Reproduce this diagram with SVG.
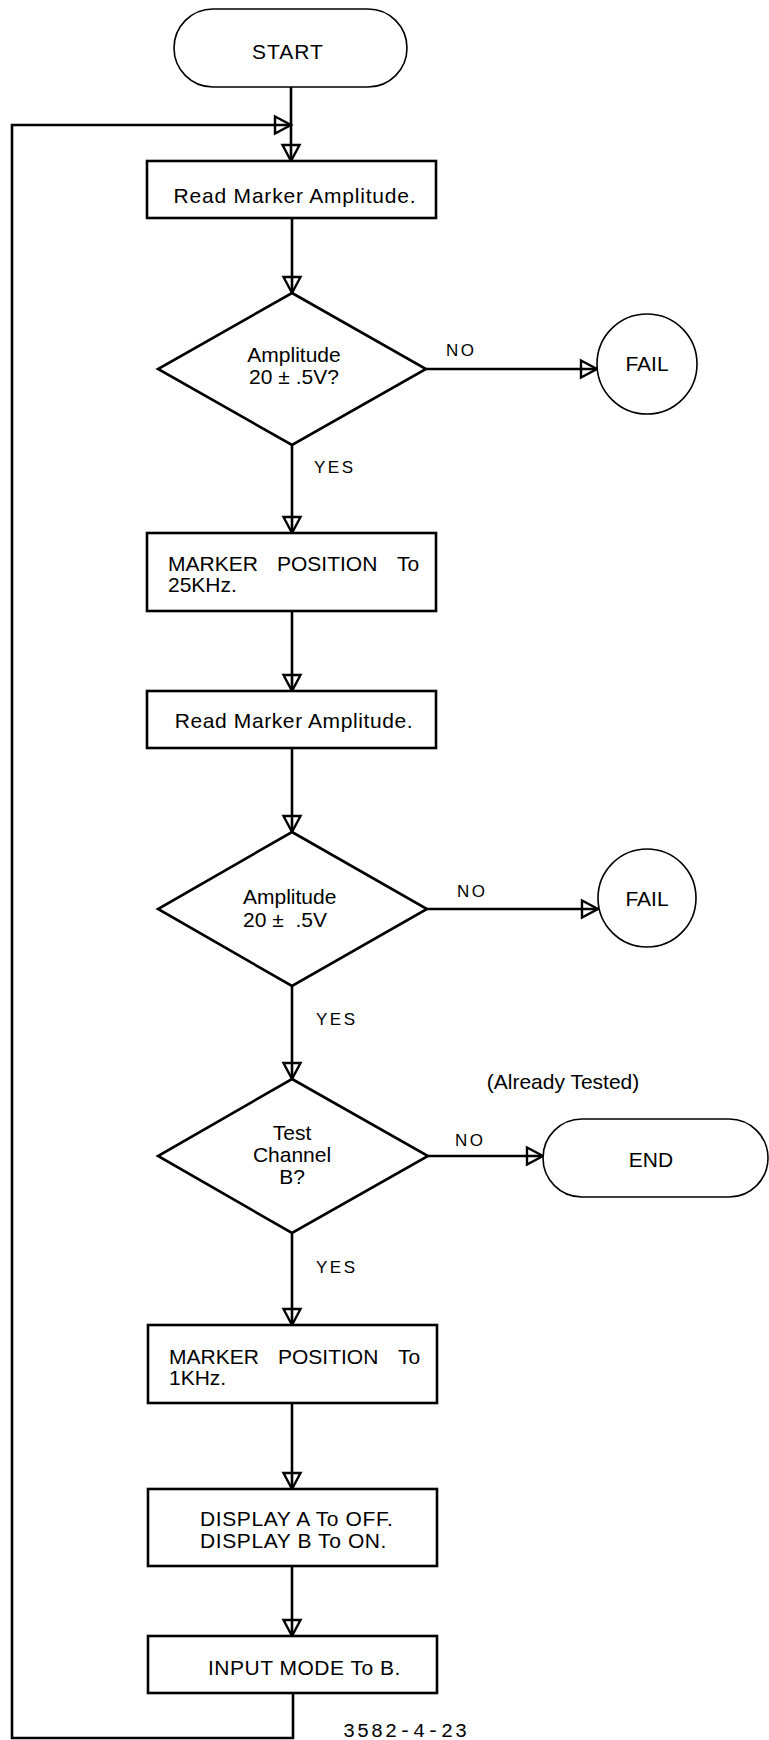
<svg xmlns="http://www.w3.org/2000/svg" width="769" height="1740" viewBox="0 0 769 1740">
<style>
  .box { fill: #fff; stroke: #000; stroke-width: 2.6; }
  .term { fill: #fff; stroke: #000; stroke-width: 1.6; }
  .line { fill: none; stroke: #000; stroke-width: 2.6; }
  .t { font-family: "Liberation Sans", Arial, sans-serif; font-size: 21px; fill: #000; }
  .c { text-anchor: middle; }
  .lbl { font-family: "Liberation Sans", Arial, sans-serif; font-size: 17px; letter-spacing: 2.5px; fill: #000; }
  .id { font-family: "Liberation Mono", "Courier New", monospace; font-size: 20px; letter-spacing: 2px; fill: #000; }
</style>
<defs>
  <marker id="arr" markerUnits="userSpaceOnUse" markerWidth="24" markerHeight="24" viewBox="0 0 24 24" refX="19" refY="12" orient="auto" overflow="visible">
    <path d="M3,3.5 L19,12 L3,20.5 Z" fill="none" stroke="#000" stroke-width="2.4" stroke-linejoin="miter"/>
  </marker>
</defs>
<rect width="769" height="1740" fill="#fff"/>

<g id="connectors">
  <path class="line" d="M291,87 L291,161" marker-end="url(#arr)"/>
  <path class="line" d="M293,1693 L293,1738 L12,1738 L12,125 L291,125" marker-end="url(#arr)"/>
  <path class="line" d="M292,218 L292,293" marker-end="url(#arr)"/>
  <path class="line" d="M426,369 L597,369" marker-end="url(#arr)"/>
  <path class="line" d="M292,445 L292,533" marker-end="url(#arr)"/>
  <path class="line" d="M292,611 L292,691" marker-end="url(#arr)"/>
  <path class="line" d="M292,748 L292,832" marker-end="url(#arr)"/>
  <path class="line" d="M427,909 L598,909" marker-end="url(#arr)"/>
  <path class="line" d="M292,986 L292,1079" marker-end="url(#arr)"/>
  <path class="line" d="M428,1156 L543,1156" marker-end="url(#arr)"/>
  <path class="line" d="M292,1233 L292,1325" marker-end="url(#arr)"/>
  <path class="line" d="M292,1403 L292,1489" marker-end="url(#arr)"/>
  <path class="line" d="M292,1566 L292,1636" marker-end="url(#arr)"/>
</g>

<g id="start">
  <rect class="term" x="174" y="9" width="233" height="78" rx="39" ry="39"/>
  <text class="t c" x="288" y="59" letter-spacing="1">START</text>
</g>

<g id="read1">
  <rect class="box" x="147" y="161" width="289" height="57"/>
  <text class="t c" x="295" y="203" letter-spacing="0.8">Read Marker Amplitude.</text>
</g>

<g id="dec1">
  <polygon class="box" points="292,293 426,369 292,445 158,369"/>
  <text class="t c" x="294" y="362">Amplitude</text>
  <text class="t c" x="294" y="384">20 ± .5V?</text>
</g>
<text class="lbl" x="446" y="356">NO</text>
<text class="lbl" x="314" y="473">YES</text>

<g id="fail1">
  <circle class="term" cx="647" cy="364" r="50"/>
  <text class="t c" x="647" y="371">FAIL</text>
</g>

<g id="marker25">
  <rect class="box" x="147" y="533" width="289" height="78"/>
  <text class="t" x="168" y="571">MARKER</text>
  <text class="t" x="277" y="571">POSITION</text>
  <text class="t" x="397" y="571">To</text>
  <text class="t" x="168" y="592">25KHz.</text>
</g>

<g id="read2">
  <rect class="box" x="147" y="691" width="289" height="57"/>
  <text class="t c" x="294" y="728" letter-spacing="0.6">Read Marker Amplitude.</text>
</g>

<g id="dec2">
  <polygon class="box" points="292,832 427,909 292,986 158,909"/>
  <text class="t" x="243" y="904">Amplitude</text>
  <text class="t" x="243" y="927" xml:space="preserve">20 ±  .5V</text>
</g>
<text class="lbl" x="457" y="897">NO</text>
<text class="lbl" x="316" y="1025">YES</text>

<g id="fail2">
  <circle class="term" cx="647" cy="898" r="49"/>
  <text class="t c" x="647" y="906">FAIL</text>
</g>

<text class="t c" x="563" y="1089" font-size="19">(Already Tested)</text>

<g id="dec3">
  <polygon class="box" points="292,1079 428,1156 292,1233 158,1156"/>
  <text class="t c" x="292" y="1140">Test</text>
  <text class="t c" x="292" y="1162">Channel</text>
  <text class="t c" x="292" y="1184">B?</text>
</g>
<text class="lbl" x="455" y="1146">NO</text>
<text class="lbl" x="316" y="1273">YES</text>

<g id="end">
  <rect class="term" x="543" y="1119" width="225" height="78" rx="39" ry="39"/>
  <text class="t c" x="651" y="1167">END</text>
</g>

<g id="marker1k">
  <rect class="box" x="148" y="1325" width="289" height="78"/>
  <text class="t" x="169" y="1364">MARKER</text>
  <text class="t" x="278" y="1364">POSITION</text>
  <text class="t" x="398" y="1364">To</text>
  <text class="t" x="169" y="1385">1KHz.</text>
</g>

<g id="display">
  <rect class="box" x="148" y="1489" width="289" height="77"/>
  <text class="t" x="200" y="1526" letter-spacing="0.6">DISPLAY A To OFF.</text>
  <text class="t" x="200" y="1548" letter-spacing="0.6">DISPLAY B To ON.</text>
</g>

<g id="input">
  <rect class="box" x="148" y="1636" width="289" height="57"/>
  <text class="t" x="208" y="1675" letter-spacing="0.5">INPUT MODE To B.</text>
</g>

<text class="id" x="343" y="1737">3582-4-23</text>
</svg>
